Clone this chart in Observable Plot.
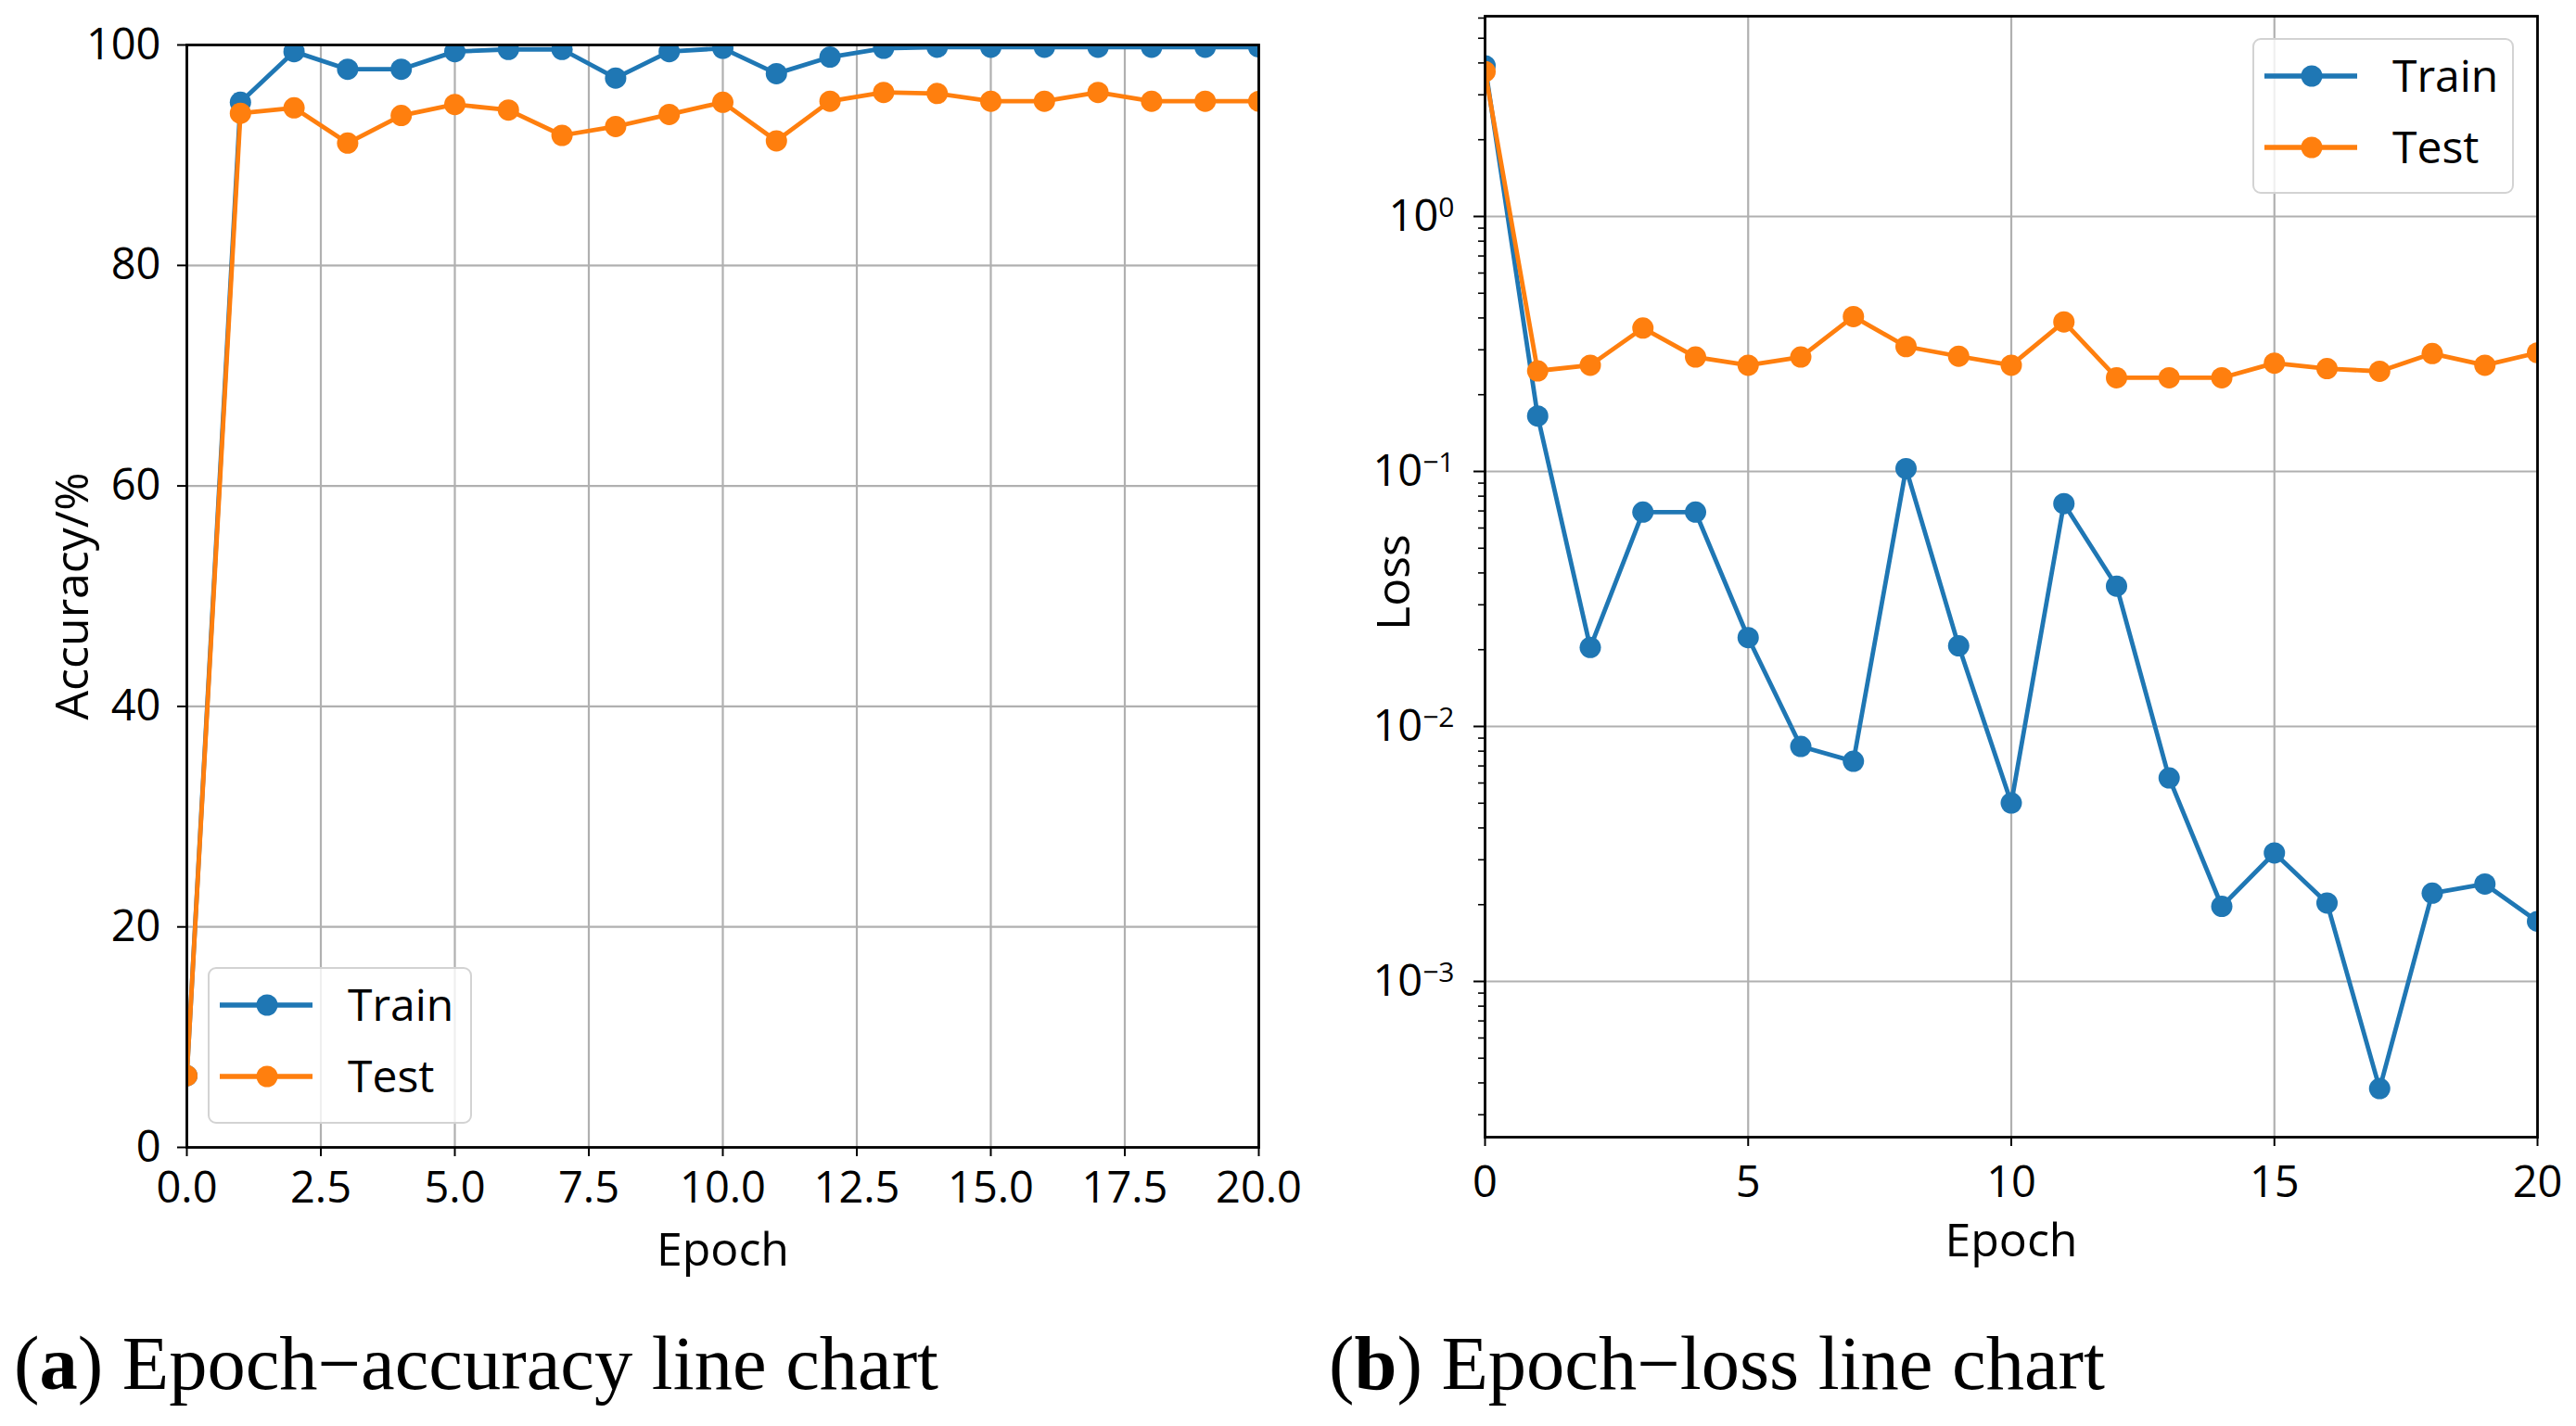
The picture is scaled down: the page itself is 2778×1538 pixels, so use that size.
<!DOCTYPE html>
<html><head><meta charset="utf-8">
<script src="https://cdn.jsdelivr.net/npm/d3@7"></script>
<script src="https://cdn.jsdelivr.net/npm/@observablehq/plot@0.6"></script>
<style>
html,body{margin:0;padding:0;background:#fff;}
#page{position:relative;width:2778px;height:1538px;overflow:hidden;background:#fff;}
.panel{position:absolute;top:0;}
.legend{position:absolute;box-sizing:border-box;border:2px solid #d3d3d3;border-radius:9px;background:rgba(255,255,255,0.8);}
#captions{position:absolute;left:0;top:0;}
</style></head><body><div id="page"></div>
<script>
// ---------- data ----------
const epochs = [0,1,2,3,4,5,6,7,8,9,10,11,12,13,14,15,16,17,18,19,20];
const accTrain = [6.5,94.8,99.4,97.8,97.8,99.4,99.6,99.6,97.0,99.4,99.7,97.4,98.9,99.7,99.8,99.8,99.8,99.8,99.8,99.8,99.8];
const accTest  = [6.5,93.8,94.3,91.1,93.6,94.6,94.1,91.8,92.6,93.7,94.8,91.3,94.9,95.7,95.6,94.9,94.9,95.7,94.9,94.9,94.9];
const lossTrain = [3.9,0.165,0.0204,0.0693,0.0693,0.0223,0.00835,0.0073,0.1026,0.0207,0.00501,0.0748,0.0355,0.00628,0.00197,0.00319,0.00203,0.00038,0.00222,0.00241,0.00172];
const lossTest  = [3.7,0.248,0.261,0.365,0.281,0.261,0.281,0.405,0.309,0.283,0.261,0.386,0.233,0.233,0.233,0.266,0.253,0.247,0.29,0.261,0.292];
const seriesNames = ["Train","Test"];
const seriesColors = ["#1f77b4","#ff7f0e"];
const accXTicks = [0,2.5,5,7.5,10,12.5,15,17.5,20];
const accYTicks = [0,20,40,60,80,100];
const lossXTicks = [0,5,10,15,20];
const lossYTicks = [1e-3,1e-2,1e-1,1];
const lossMinorMultipliers = [2,3,4,5,6,7,8,9];
const lossMinorDecades = [1e-4,1e-3,1e-2,1e-1,1];
const captions = [["a"," Epoch\u2212accuracy line chart"],["b"," Epoch\u2212loss line chart"]];

// ---------- style ----------
const FONT = "'Open Sans', 'Noto Sans', sans-serif";
const GRID = "#b0b0b0";
const page = document.getElementById("page");

function rows(values, name){ return epochs.map((e,i)=>({epoch:e, value:values[i], series:name})); }
function seriesMarks(list){
  return list.flatMap((vals, i) => [
    Plot.line(rows(vals, seriesNames[i]), {x:"epoch", y:"value", stroke:seriesColors[i], strokeWidth:4.8, clip:true}),
    Plot.dot(rows(vals, seriesNames[i]), {x:"epoch", y:"value", fill:seriesColors[i], r:11.5, clip:true})
  ]);
}
const baseStyle = {fontFamily:FONT, fontSize:"47px", color:"#000", background:"transparent", overflow:"visible", maxWidth:"none"};

// ---------- left panel ----------
const accPlot = Plot.plot({
  width:1400, height:1420, marginLeft:201, marginRight:43, marginTop:48, marginBottom:183,
  style: baseStyle,
  x:{domain:[0,20]}, y:{domain:[0,100]},
  marks:[
    Plot.gridX(accXTicks, {stroke:GRID, strokeOpacity:1, strokeWidth:2.2}),
    Plot.gridY(accYTicks, {stroke:GRID, strokeOpacity:1, strokeWidth:2.2}),
    Plot.axisX({ticks:accXTicks, tickFormat:d3.format(".1f"), tickSize:10, tickPadding:16, strokeWidth:2, label:null}),
    Plot.axisY({ticks:accYTicks, tickSize:10, tickPadding:18, strokeWidth:2, label:null}),
    ...seriesMarks([accTrain, accTest]),
    Plot.frame({stroke:"#000", strokeWidth:2.8}),
    Plot.text(["Epoch"], {frameAnchor:"bottom", dy:127, fontSize:50}),
    Plot.text(["Accuracy/%"], {frameAnchor:"left", textAnchor:"middle", rotate:-90, dx:-123, fontSize:50})
  ]
});
accPlot.classList.add("panel");
accPlot.style.left = "0px";
page.appendChild(accPlot);

// ---------- right panel ----------
const lossMinor = lossMinorDecades.flatMap(d => lossMinorMultipliers.map(m => m*d)).filter(v => v > 2.45e-4 && v < 6.1);
const lossPlot = Plot.plot({
  width:1378, height:1420, marginLeft:201, marginRight:42, marginTop:17, marginBottom:194,
  style: baseStyle,
  x:{domain:[0,20]}, y:{type:"log", domain:[2.45e-4, 6.1]},
  marks:[
    Plot.gridX(lossXTicks, {stroke:GRID, strokeOpacity:1, strokeWidth:2.2}),
    Plot.gridY(lossYTicks, {stroke:GRID, strokeOpacity:1, strokeWidth:2.2}),
    Plot.axisX({ticks:lossXTicks, tickFormat:d3.format("d"), tickSize:10, tickPadding:21, strokeWidth:2, label:null}),
    Plot.axisY({ticks:lossYTicks, tickFormat:d => "10^" + Math.round(Math.log10(d)), tickSize:12, tickPadding:21, strokeWidth:2, label:null}),
    Plot.axisY({ticks:lossMinor, tickFormat:() => "", tickSize:7, strokeWidth:1.6, label:null}),
    ...seriesMarks([lossTrain, lossTest]),
    Plot.frame({stroke:"#000", strokeWidth:2.8}),
    Plot.text(["Epoch"], {frameAnchor:"bottom", dy:128, fontSize:50}),
    Plot.text(["Loss"], {frameAnchor:"left", textAnchor:"middle", rotate:-90, dx:-98, dy:6, fontSize:50})
  ]
});
lossPlot.classList.add("panel");
lossPlot.style.left = "1400px";
page.appendChild(lossPlot);

// superscript exponents
const SVGNS = "http://www.w3.org/2000/svg";
lossPlot.querySelectorAll("text").forEach(t => {
  const m = /^10\^(-?\d+)$/.exec(t.textContent);
  if (!m) return;
  t.textContent = "10";
  const s = document.createElementNS(SVGNS, "tspan");
  s.setAttribute("dy", "-15");
  s.setAttribute("font-size", "30");
  s.textContent = m[1].replace("-", "\u2212");
  t.appendChild(s);
});

// ---------- legends ----------
function legend(left, top, w, h){
  const d = document.createElement("div");
  d.className = "legend";
  Object.assign(d.style, {left:left+"px", top:top+"px", width:w+"px", height:h+"px"});
  let svg = `<svg width="${w}" height="${h}" style="position:absolute;left:-2px;top:-2px;overflow:visible" font-family="${FONT.replace(/'/g,"")}" font-size="48">`;
  seriesNames.forEach((n,i) => {
    const cy = 41 + i*77;
    svg += `<line x1="13" x2="113" y1="${cy}" y2="${cy}" stroke="${seriesColors[i]}" stroke-width="5.5"/>`;
    svg += `<circle cx="64" cy="${cy}" r="11.5" fill="${seriesColors[i]}"/>`;
    svg += `<text x="151" y="${cy}" dy="0.35em" fill="#000">${n}</text>`;
  });
  svg += `</svg>`;
  d.innerHTML = svg;
  page.appendChild(d);
}
legend(224, 1043, 285, 169);
legend(2429, 41, 282, 168);

// ---------- captions ----------
let cap = `<svg id="captions" width="2778" height="1538" font-family="'Liberation Serif', serif" font-size="82.5">`;
[[15,1498],[1433,1498]].forEach(([x,y],i) => {
  cap += `<text x="${x}" y="${y}">(<tspan font-weight="bold">${captions[i][0]}</tspan>)${captions[i][1]}</text>`;
});
cap += `</svg>`;
page.insertAdjacentHTML("beforeend", cap);
</script></body></html>
